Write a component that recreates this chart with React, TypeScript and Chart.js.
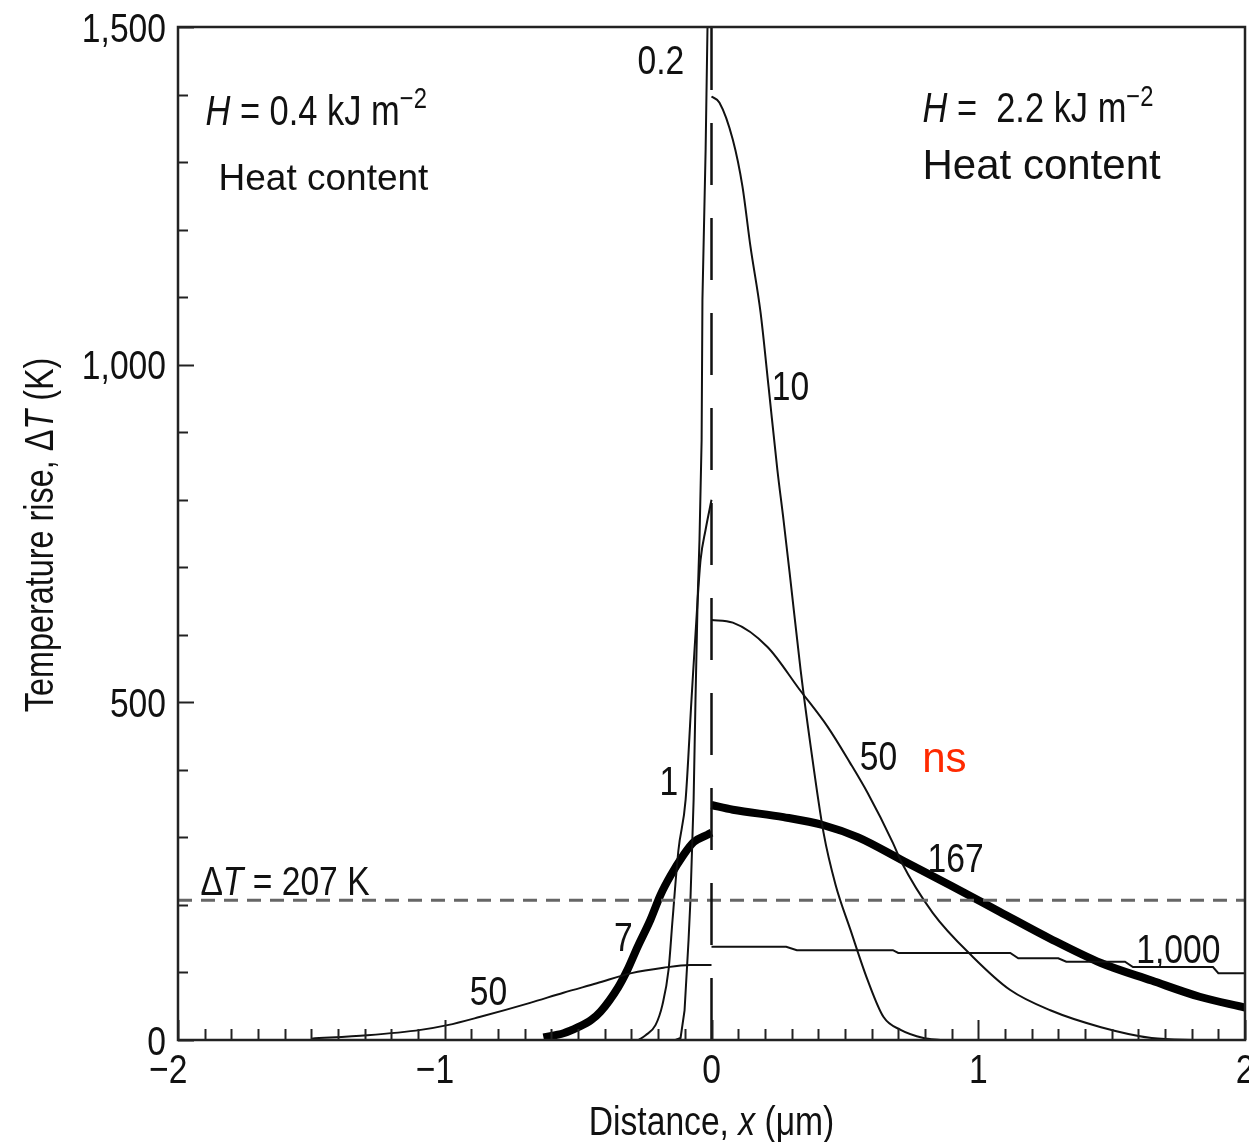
import React, { useEffect, useRef } from "react";
import { Chart, registerables } from "chart.js";
Chart.register(...registerables);

type Pt = [number, number];

// ---- axes ----
const xTickValues = [-2, -1, 0, 1, 2];
const xTickLabels = ["−2", "−1", "0", "1", "2"];
const yTickValues = [0, 500, 1000, 1500];
const yTickLabels = ["0", "500", "1,000", "1,500"];
const xMinorStep = 0.1;
const yMinorStep = 100;
const thresholdK = 207;

// ---- series (distance µm, temperature rise K) ----
const curve02ns: Pt[] = [
  [-0.135, 0], [-0.116, 3], [-0.101, 44], [-0.086, 148], [-0.079, 207], [-0.067, 356],
  [-0.06, 504], [-0.052, 652], [-0.045, 741], [-0.037, 889], [-0.034, 1096],
  [-0.022, 1319], [-0.015, 1500], [-0.012, 1600],
];
const curve1ns: Pt[] = [
  [-0.274, 0], [-0.247, 7], [-0.21, 22], [-0.184, 52], [-0.161, 104], [-0.146, 178],
  [-0.124, 281], [-0.097, 356], [-0.075, 504], [-0.052, 652], [-0.041, 711],
  [-0.022, 756], [0, 800],
];
const curve7nsLeft: Pt[] = [
  [-0.63, 4], [-0.555, 10], [-0.5, 19], [-0.45, 30], [-0.416, 42], [-0.35, 78],
  [-0.315, 104], [-0.277, 138], [-0.229, 178], [-0.191, 215], [-0.154, 243],
  [-0.105, 274], [-0.067, 293], [-0.015, 304], [0, 307],
];
const curve50nsLeft: Pt[] = [
  [-1.5, 2], [-1.29, 7], [-1.09, 15], [-0.99, 22], [-0.87, 34], [-0.68, 55],
  [-0.555, 70], [-0.43, 84], [-0.3, 99], [-0.18, 107], [-0.08, 111], [0, 111],
];
const curve10nsRight: Pt[] = [
  [0, 1397], [0.03, 1388], [0.08, 1333], [0.116, 1264], [0.146, 1175], [0.184, 1077],
  [0.214, 967], [0.247, 844], [0.27, 770], [0.296, 681], [0.334, 548], [0.371, 437],
  [0.42, 307], [0.465, 230], [0.521, 163], [0.585, 89], [0.645, 34], [0.709, 15],
  [0.795, 3], [0.858, 0],
];
const curve50nsRight: Pt[] = [
  [0, 622], [0.08, 618], [0.21, 582], [0.33, 519], [0.435, 464], [0.52, 410],
  [0.585, 366], [0.68, 292], [0.71, 265], [0.83, 188], [0.98, 123], [1.12, 74],
  [1.27, 44], [1.46, 19], [1.65, 3], [1.83, 0],
];
const curve167nsRight: Pt[] = [
  [0, 348], [0.08, 341], [0.27, 330], [0.42, 318], [0.55, 300], [0.72, 265],
  [0.9, 228], [1.08, 190], [1.27, 150], [1.46, 114], [1.65, 88], [1.83, 64], [2.0, 48],
];
const curve1000nsRight: Pt[] = [
  [0, 138], [0.28, 138], [0.32, 133], [0.68, 133], [0.7, 129], [1.12, 129],
  [1.15, 121], [1.3, 121], [1.33, 116], [1.55, 116], [1.58, 108], [1.88, 108],
  [1.9, 99], [2.0, 99],
];

// ---- text ----
const FONT = '"Liberation Sans", Arial, Helvetica, sans-serif';
const SX = 0.82;
type Seg = { t: string; it?: boolean; sup?: boolean };
type Note = { segs: Seg[]; x: number; y: number; align: "left" | "center" | "right"; size: number; sx: number; color?: string };

const notes: Note[] = [
  { segs: [{ t: "0.2" }], x: -0.19, y: 1452, align: "center", size: 41, sx: SX },
  { segs: [{ t: "10" }], x: 0.296, y: 970, align: "center", size: 41, sx: SX },
  { segs: [{ t: "1" }], x: -0.16, y: 385, align: "center", size: 41, sx: SX },
  { segs: [{ t: "50" }], x: 0.626, y: 422, align: "center", size: 41, sx: SX },
  { segs: [{ t: "ns" }], x: 0.873, y: 419, align: "center", size: 42, sx: 1, color: "#ff2a00" },
  { segs: [{ t: "167" }], x: 0.915, y: 271, align: "center", size: 41, sx: SX },
  { segs: [{ t: "7" }], x: -0.33, y: 153, align: "center", size: 41, sx: SX },
  { segs: [{ t: "50" }], x: -0.836, y: 74, align: "center", size: 41, sx: SX },
  { segs: [{ t: "1,000" }], x: 1.75, y: 136, align: "center", size: 41, sx: SX },
  { segs: [{ t: "Δ" }, { t: "T", it: true }, { t: " = 207 K" }], x: -1.916, y: 237, align: "left", size: 41, sx: SX },
  { segs: [{ t: "H", it: true }, { t: " = 0.4 kJ m" }, { t: "−2", sup: true }], x: -1.897, y: 1378, align: "left", size: 42, sx: SX },
  { segs: [{ t: "Heat content" }], x: -1.848, y: 1279, align: "left", size: 37, sx: 1 },
  { segs: [{ t: "H", it: true }, { t: " =  2.2 kJ m" }, { t: "−2", sup: true }], x: 0.791, y: 1381, align: "left", size: 42, sx: SX },
  { segs: [{ t: "Heat content" }], x: 0.791, y: 1298, align: "left", size: 42, sx: 1 },
];

const xTitle: Seg[] = [{ t: "Distance, " }, { t: "x", it: true }, { t: " (μm)" }];
const yTitle: Seg[] = [{ t: "Temperature rise, Δ" }, { t: "T", it: true }, { t: " (K)" }];

function drawRich(ctx: CanvasRenderingContext2D, segs: Seg[], x: number, y: number, size: number,
  align: "left" | "center" | "right", sx: number, color = "#111") {
  const fontFor = (s: Seg) => `${s.it ? "italic " : ""}${s.sup ? Math.round(size * 0.7) : size}px ${FONT}`;
  let total = 0;
  const ws = segs.map((s) => { ctx.font = fontFor(s); const w = ctx.measureText(s.t).width; total += w; return w; });
  ctx.save();
  ctx.translate(x, y);
  ctx.scale(sx, 1);
  ctx.fillStyle = color;
  ctx.textAlign = "left";
  ctx.textBaseline = "alphabetic";
  let cx = align === "left" ? 0 : align === "center" ? -total / 2 : -total;
  const base = size * 0.36;
  segs.forEach((s, i) => {
    ctx.font = fontFor(s);
    ctx.fillText(s.t, cx, s.sup ? base - size * 0.4 : base);
    cx += ws[i];
  });
  ctx.restore();
}

const pts = (a: Pt[]) => a.map(([x, y]) => ({ x, y }));

const decorPlugin = {
  id: "decor",
  afterDatasetsDraw(chart: any) {
    const ctx: CanvasRenderingContext2D = chart.ctx;
    const { left, right, top, bottom } = chart.chartArea;
    const xs = chart.scales.x, ys = chart.scales.y;
    ctx.save();
    ctx.strokeStyle = "#222";
    ctx.lineWidth = 2.5;
    ctx.strokeRect(left, top, right - left, bottom - top);
    ctx.lineWidth = 2;
    const nx = Math.round((xs.max - xs.min) / xMinorStep);
    for (let i = 0; i <= nx; i++) {
      const v = xs.min + i * xMinorStep;
      const px = Math.round(xs.getPixelForValue(v)) + 0.5;
      const major = Math.abs(v - Math.round(v)) < 1e-6;
      ctx.beginPath();
      ctx.moveTo(px, bottom);
      ctx.lineTo(px, bottom - (major ? 20 : 11));
      ctx.stroke();
    }
    const ny = Math.round((ys.max - ys.min) / yMinorStep);
    for (let i = 0; i <= ny; i++) {
      const v = ys.min + i * yMinorStep;
      const py = Math.round(ys.getPixelForValue(v)) + 0.5;
      const major = v % 500 === 0;
      ctx.beginPath();
      ctx.moveTo(left, py);
      ctx.lineTo(left + (major ? 16 : 10), py);
      ctx.stroke();
    }
    ctx.restore();
    xTickValues.forEach((v, i) => {
      const lab = xTickLabels[i];
      const digits = lab.replace("−", "");
      ctx.font = `41px ${FONT}`;
      const dw = ctx.measureText(digits).width * SX;
      drawRich(ctx, [{ t: lab }], xs.getPixelForValue(v) + dw / 2, bottom + 28, 41, "right", SX);
    });
    yTickValues.forEach((v, i) => {
      drawRich(ctx, [{ t: yTickLabels[i] }], left - 12, ys.getPixelForValue(v), 41, "right", SX);
    });
    drawRich(ctx, xTitle, (left + right) / 2, bottom + 80, 41, "center", SX);
    ctx.save();
    ctx.translate(38, 535);
    ctx.rotate(-Math.PI / 2);
    drawRich(ctx, yTitle, 0, 0, 41, "center", 0.79);
    ctx.restore();
    notes.forEach((n) => {
      drawRich(ctx, n.segs, xs.getPixelForValue(n.x), ys.getPixelForValue(n.y), n.size, n.align, n.sx, n.color || "#111");
    });
  },
};

export default function App() {
  const ref = useRef<HTMLCanvasElement | null>(null);
  useEffect(() => {
    document.body.style.margin = "0";
    const canvas = ref.current!;
    const thin = (data: Pt[], smooth = true) => ({
      data: pts(data), borderColor: "#111", borderWidth: 2, showLine: true, pointRadius: 0,
      cubicInterpolationMode: smooth ? "monotone" : "default", tension: 0, fill: false,
    });
    const thick = (data: Pt[]) => ({
      data: pts(data), borderColor: "#000", borderWidth: 8, showLine: true, pointRadius: 0,
      cubicInterpolationMode: "monotone", fill: false,
      borderCapStyle: "butt" as const, borderJoinStyle: "round" as const,
    });
    const chart = new Chart(canvas, {
      type: "scatter",
      data: {
        datasets: [
          { data: [{ x: 0, y: 0 }, { x: 0, y: 1500 }], borderColor: "#111", borderWidth: 2.5, borderDash: [62, 33], showLine: true, pointRadius: 0 },
          { data: [{ x: -2, y: thresholdK }, { x: 2, y: thresholdK }], borderColor: "#666", borderWidth: 3, borderDash: [14, 9], showLine: true, pointRadius: 0 },
          thin(curve02ns, false),
          thin(curve1ns),
          thin(curve50nsLeft),
          thin(curve10nsRight),
          thin(curve50nsRight),
          thin(curve1000nsRight, false),
          thick(curve7nsLeft),
          thick(curve167nsRight),
        ] as any,
      },
      options: {
        animation: false,
        responsive: false,
        devicePixelRatio: 1,
        layout: { padding: { left: 178, right: 4, top: 27, bottom: 102 } },
        plugins: { legend: { display: false }, tooltip: { enabled: false } },
        scales: {
          x: { type: "linear", min: -2, max: 2, display: false },
          y: { type: "linear", min: 0, max: 1500, display: false },
        },
      },
      plugins: [decorPlugin],
    });
    return () => chart.destroy();
  }, []);
  return (
    <div style={{ width: 1249, height: 1142 }}>
      <canvas ref={ref} width={1249} height={1142} style={{ display: "block" }} />
    </div>
  );
}
